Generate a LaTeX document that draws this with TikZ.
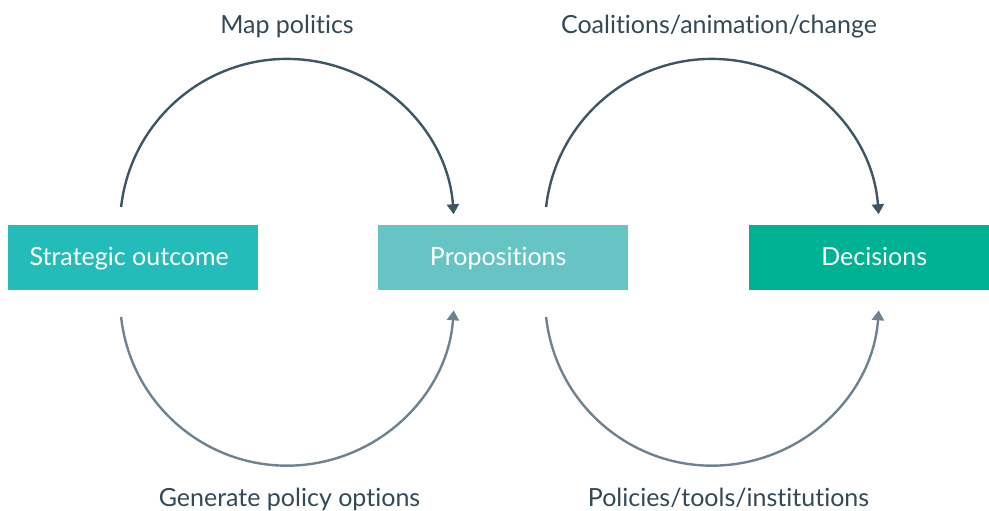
\documentclass[tikz,border=0pt]{standalone}
\usepackage{fontspec}
\setmainfont[Ligatures={NoCommon,NoRare}]{Lato}
\usetikzlibrary{arrows.meta}
\definecolor{boxA}{RGB}{36,188,184}
\definecolor{boxB}{RGB}{102,197,196}
\definecolor{boxC}{RGB}{0,178,148}
\definecolor{arcTop}{RGB}{62,85,99}
\definecolor{arcBot}{RGB}{110,130,144}
\definecolor{labelcol}{RGB}{52,72,86}
\tikzset{
  stagebox/.style={fill=#1, draw=none, minimum height=65pt, inner sep=0pt, anchor=south west},
  boxtext/.style={text=white, font=\fontsize{25}{30}\selectfont, inner sep=0pt, anchor=base},
  looplabel/.style={text=labelcol, font=\fontsize{25}{30}\selectfont, inner sep=0pt, anchor=base},
  toparc/.style={draw=arcTop, line width=2.4pt, -{Triangle[length=10pt,width=12pt]}},
  botarc/.style={draw=arcBot, line width=2.4pt, -{Triangle[length=10pt,width=12pt]}}
}
\begin{document}
\begin{tikzpicture}[x=1pt,y=1pt]
\useasboundingbox (0,0) rectangle (989,511);
% boxes
\node[stagebox=boxA, minimum width=250pt] (so) at (8,221) {};
\node[boxtext] (sot) at ([xshift=-4pt,yshift=-8.5pt]so.center) {Strategic outcome};
\node[stagebox=boxB, minimum width=250pt] (pr) at (378,221) {};
\node[boxtext] (prt) at ([xshift=-5pt,yshift=-8.5pt]pr.center) {Propositions};
\node[stagebox=boxC, minimum width=240pt] (de) at (749,221) {};
\node[boxtext] (det) at ([xshift=5pt,yshift=-8.5pt]de.center) {Decisions};
% arc start points
\coordinate (s1) at (121.1,304);
\coordinate (s2) at (121.1,194);
\coordinate (s3) at (546.1,304);
\coordinate (s4) at (546.1,194);
\draw[toparc] (s1) arc[start angle=173.5, end angle=4, radius=167];
\draw[botarc] (s2) arc[start angle=186.3, end angle=356, radius=167];
\draw[toparc] (s3) arc[start angle=173.5, end angle=4, radius=167];
\draw[botarc] (s4) arc[start angle=186.3, end angle=356, radius=167];
% labels
\node[looplabel] (l1) at (287,477) {Map politics};
\node[looplabel] (l2) at (719,477) {Coalitions/animation/change};
\node[looplabel] (l3) at (289.5,4.5) {Generate policy options};
\node[looplabel] (l4) at (728.5,4.5) {Policies/tools/institutions};
\end{tikzpicture}
\end{document}
